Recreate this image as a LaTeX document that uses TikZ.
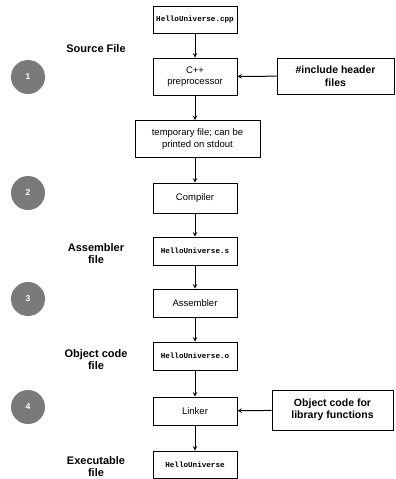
\documentclass[tikz,border=0pt]{standalone}
\usepackage{fontspec}
\setmainfont{Liberation Sans}
\setmonofont{Liberation Mono}
\usetikzlibrary{arrows,positioning}

\begin{document}
\begin{tikzpicture}[
    x=1pt, y=-1pt,
    stage/.style={draw, line width=0.8pt, minimum width=84pt, align=center, inner sep=2pt, font=\fontsize{9.5}{11.5}\selectfont},
    file/.style={stage, font=\fontsize{7.6}{9}\selectfont\ttfamily\bfseries},
    extra/.style={stage, font=\fontsize{10.5}{12.5}\selectfont\bfseries},
    tag/.style={align=center, font=\fontsize{11}{12}\selectfont\bfseries},
    step circle/.style={circle, fill=black!52, text=white, minimum size=34pt, inner sep=0pt, font=\fontsize{8.5}{10}\selectfont\bfseries},
    link/.style={->,>=stealth,line width=1pt}
]
\useasboundingbox (0,0) rectangle (396,479);

% Main chain
\node [file, minimum height=27pt] (cpp) at (195,19.5) {HelloUniverse.cpp};
\node [stage, minimum height=37pt] (prep) at (195,76.5) {C++\\preprocessor};
\node [stage, minimum height=37pt, minimum width=125pt] (temp) at (197.5,139) {temporary file; can be\\printed on stdout};
\node [stage, minimum height=30pt] (comp) at (195,198) {Compiler};
\node [file, minimum height=28pt] (asmfile) at (195,251) {HelloUniverse.s};
\node [stage, minimum height=28pt] (asm) at (195,303) {Assembler};
\node [file, minimum height=28pt] (objfile) at (195,356) {HelloUniverse.o};
\node [stage, minimum height=28pt] (link) at (195,411) {Linker};
\node [file, minimum height=27pt] (exe) at (195,464.5) {HelloUniverse};

% Side inputs
\node [extra, minimum width=117pt, minimum height=36pt] (hdr) at (335.5,76) {\#include header\\files};
\node [extra, minimum width=121pt, minimum height=40pt] (lib) at (332.5,410) {Object code for\\library functions};

% Labels
\node [tag] (srclab) at (96,49) {Source File};
\node [tag] (asmlab) at (96,253.5) {Assembler\\file};
\node [tag] (objlab) at (96,360) {Object code\\file};
\node [tag] (exelab) at (96,466.5) {Executable\\file};

% Steps
\node [step circle] (s1) at (28,77) {1};
\node [step circle] (s2) at (28,193) {2};
\node [step circle] (s3) at (28,299) {3};
\node [step circle] (s4) at (28,407) {4};

% Arrows
\draw [link] (cpp) -- (prep);
\draw [link] (prep) -- (prep |- temp.north);
\draw [link] (temp.south -| comp) -- (comp);
\draw [link] (comp) -- (asmfile);
\draw [link] (asmfile) -- (asm);
\draw [link] (asm) -- (objfile);
\draw [link] (objfile) -- (link);
\draw [link] (link) -- (exe);
\draw [link] (hdr) -- (prep);
\draw [link] (lib) -- (link);

\end{tikzpicture}
\end{document}
